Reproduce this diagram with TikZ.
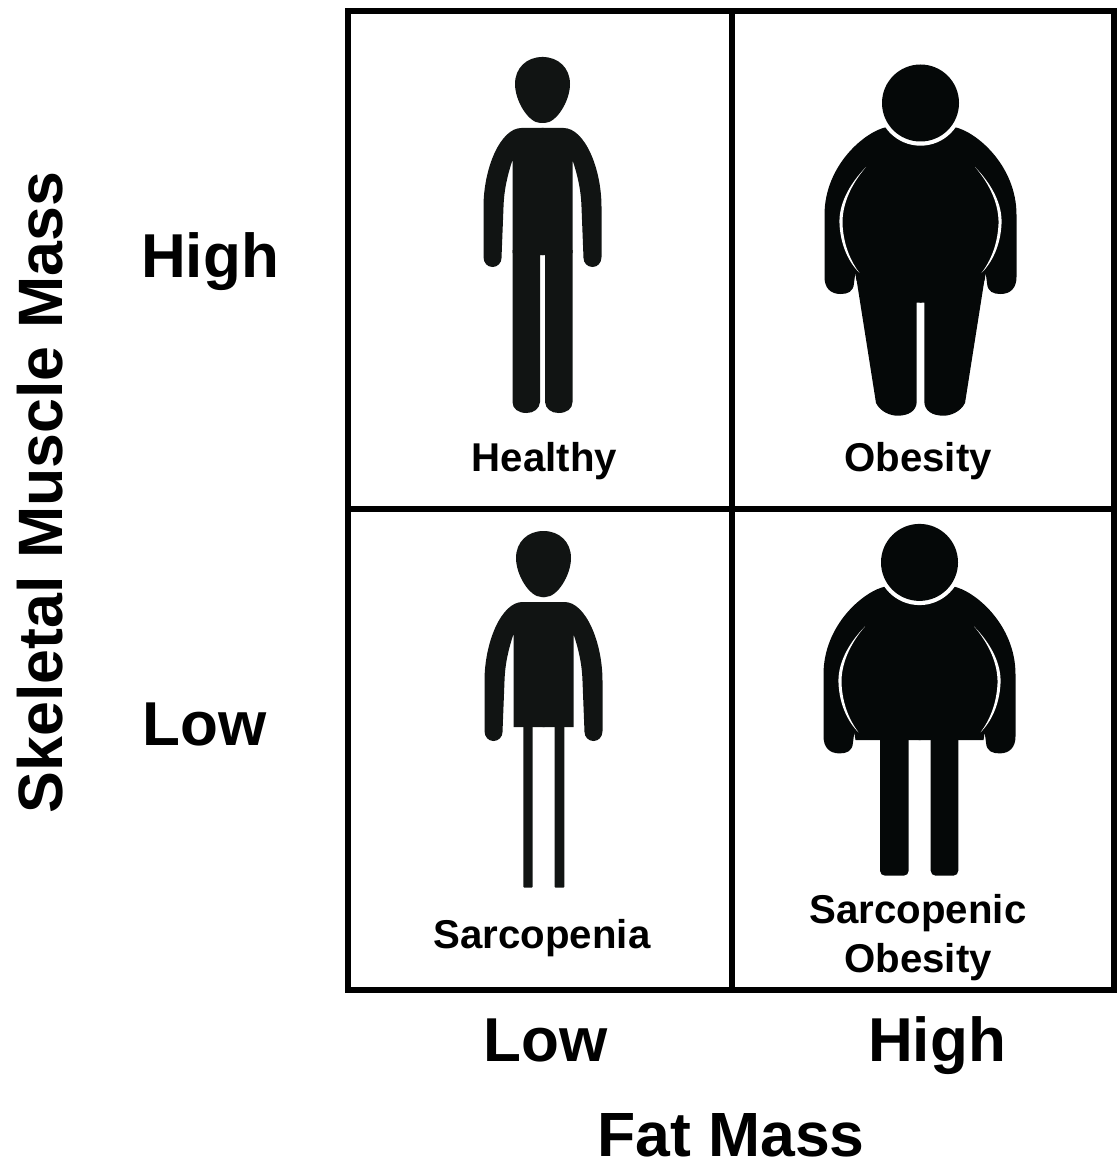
\documentclass[tikz,border=0pt]{standalone}
\usepackage{fontspec}
\setmainfont{Liberation Sans}
\definecolor{slimblack}{HTML}{111413}
\definecolor{fatblack}{HTML}{050808}

\begin{document}
\begin{tikzpicture}[x=1pt,y=-1pt,
	gridline/.style={draw=black,line width=6pt,line join=miter},
	bigaxis/.style={font=\bfseries\fontsize{62.5}{62.5}\selectfont,anchor=base,inner sep=0pt},
	sideaxis/.style={font=\bfseries\fontsize{62.7}{62.7}\selectfont,anchor=base,inner sep=0pt},
	bigtick/.style={font=\bfseries\fontsize{62}{62}\selectfont,anchor=base,inner sep=0pt},
	caption/.style={font=\bfseries\fontsize{40.2}{48}\selectfont,anchor=base,inner sep=0pt},
	slimtop/.pic={
		\fill[slimblack] (-1,57) -- (0,57) .. controls (16,57) and (27.5,68) .. (27.5,84)
			.. controls (27.5,101) and (14,123) .. (2,123) -- (-1,123) -- cycle;
		\fill[slimblack] (-1,128) -- (21,128) .. controls (42,128) and (59,168) .. (59,207) -- (59,257)
			.. controls (59,263) and (55,267) .. (50,267) .. controls (45,267) and (41,263) .. (41,258)
			-- (39,207) .. controls (38.5,190) and (35,175) .. (30,160) -- (30,253) -- (-1,253) -- cycle;
	},
	slimlegs/.pic={
		\fill[slimblack] (-1,250) -- (30,250) -- (30,402) .. controls (30,409) and (24,413) .. (16,413)
			.. controls (9,413) and (3,409) .. (2.5,402) -- (2.5,255) -- (-1,255) -- cycle;
	},
	fattop/.pic={
		\fill[fatblack] (-1,100) -- (33.5,127) .. controls (55,131) and (96,165) .. (96,215) -- (96,277)
			.. controls (96,288) and (90,294) .. (80,294) .. controls (73,294) and (67,292) .. (66.5,283)
			-- (65.2,273) -- (64,280.6) -- (-1,280.6) -- cycle;
		\fill[white] (54.5,167) .. controls (72,185) and (82,205) .. (81,224)
			.. controls (80,245) and (72,262) .. (61,273) .. controls (70,261) and (77,245) .. (78,224)
			.. controls (78.5,205) and (70,185) .. (54.5,167) -- cycle;
	},
	fatlegs/.pic={
		\fill[fatblack] (-1,275) -- (64.7,275) -- (44.5,403) .. controls (40,412) and (30,415.7) .. (23,415.7)
			.. controls (12,415.7) and (4,411) .. (3.8,401.7) -- (3.8,302.7) -- (-1,302.7) -- cycle;
	},
	fathead/.pic={
		\fill[white] (0,103) circle (42.7);
		\fill[fatblack] (0,103) circle (38.5);
	}]
	\useasboundingbox (0,0) rectangle (1116,1161);

	% Healthy
	\pic at (542.5,0) {slimtop};
	\pic[xscale=-1] at (542.5,0) {slimtop};
	\pic at (542.5,0) {slimlegs};
	\pic[xscale=-1] at (542.5,0) {slimlegs};

	% Obesity
	\pic at (920.5,0) {fattop};
	\pic[xscale=-1] at (920.5,0) {fattop};
	\pic at (920.5,0) {fatlegs};
	\pic[xscale=-1] at (920.5,0) {fatlegs};
	\pic at (920.5,0) {fathead};

	% Sarcopenia
	\pic at (543.5,474) {slimtop};
	\pic[xscale=-1] at (543.5,474) {slimtop};
	\fill[slimblack,rounded corners=1pt] (523.3,725) rectangle (532.7,887.7);
	\fill[slimblack,rounded corners=1pt] (554.7,725) rectangle (564.3,887.7);

	% Sarcopenic obesity
	\pic at (919.5,459.4) {fattop};
	\pic[xscale=-1] at (919.5,459.4) {fattop};
	\fill[fatblack,rounded corners=5pt] (880,735) rectangle (908.7,875.7);
	\fill[fatblack,rounded corners=5pt] (930.7,735) rectangle (958.3,875.7);
	\pic at (919.5,459.4) {fathead};

	% Grid
	\draw[gridline] (348,11) rectangle (1114,990);
	\draw[gridline] (732,11) -- (732,990);
	\draw[gridline] (348,509) -- (1114,509);

	% Cell labels
	\node[caption] (healthy) at (544.5,471) {Healthy};
	\node[caption] (obesity) at (918,471) {Obesity};
	\node[caption] (sarcopenia) at (542,948) {Sarcopenia};
	\node[caption] (sarcobesity) at (918,923) {Sarcopenic};
	\node[caption] (sarcobesity2) at (918,972) {Obesity};

	% Axes
	\node[bigtick] (yhigh) at (210,277) {High};
	\node[bigtick] (ylow) at (204.5,745) {Low};
	\node[bigtick] (xlow) at (545.5,1061) {Low};
	\node[bigtick] (xhigh) at (937,1061) {High};
	\node[bigaxis] (xaxis) at (731,1156) {Fat Mass};
	\node[sideaxis,rotate=90] (yaxis) at (62,492.5) {Skeletal Muscle Mass};
\end{tikzpicture}
\end{document}
